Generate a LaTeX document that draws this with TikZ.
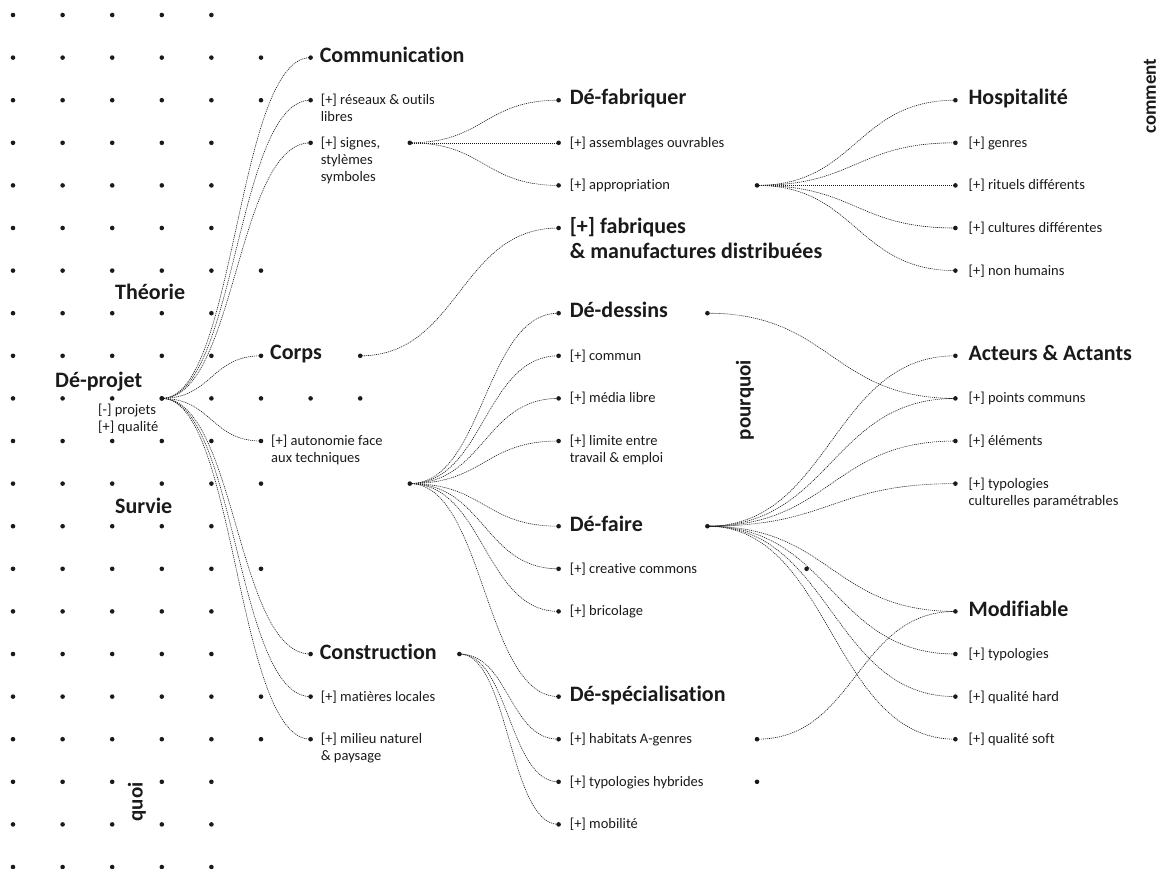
\documentclass[tikz,border=0pt]{standalone}
\usepackage{fontspec}
\setmainfont{Carlito}[Ligatures=NoCommon]
\usetikzlibrary{calc}
\definecolor{ink}{HTML}{1A1A1A}
\newcommand\lnk[2]{\draw[link] let \p1=(#1.center), \p2=(#2.center), \n1={0.5*(\x2-\x1)} in (#1.center) .. controls ([xshift=\n1]#1.center) and ([xshift=-\n1]#2.center) .. (#2.center);}
\newcommand\twol[2]{\vtop{\hbox{#1}\hbox{#2}}}
\newcommand\threel[3]{\vtop{\hbox{#1}\hbox{#2}\hbox{#3}}}
\begin{document}
\begin{tikzpicture}[x=1pt,y=-1pt,
 dot/.style={circle,fill=ink,inner sep=0pt,minimum size=4.6pt},
 big/.style={anchor=base west,inner sep=0pt,text=ink,font=\fontsize{22}{25}\selectfont\bfseries},
 sm/.style={anchor=base west,inner sep=0pt,text=ink,font=\fontsize{14.5}{17}\selectfont},
 rot/.style={rotate=90,inner sep=0pt,text=ink,font=\fontsize{21}{25}\selectfont\bfseries},
 link/.style={draw=ink,line width=0.6pt,dash pattern=on 1.1pt off 0.9pt}]
\useasboundingbox (0,0) rectangle (1161,868);
% grid of dots
\foreach \r in {0,...,20}{\foreach \c in {0,...,4}{\fill[ink] ({13+49.6*\c},{15+42.6*\r}) circle (2.3pt);}}
\foreach \r in {1,2,6,9,11,13,16,17}{\fill[ink] (261,{15+42.6*\r}) circle (2.3pt);}
\fill[ink] (310.6,398.4) circle (2.3pt) (360.2,398.4) circle (2.3pt);
% node dots
\node[dot] (dp) at (161.8,398.4) {};
\node[dot] (com) at (310.6,57.6) {};
\node[dot] (res) at (310.6,100.2) {};
\node[dot] (sig) at (310.6,142.8) {};
\node[dot] (sigS) at (409.8,142.8) {};
\node[dot] (cor) at (261,355.8) {};
\node[dot] (corS) at (360.2,355.8) {};
\node[dot] (aut) at (261,441) {};
\node[dot] (autS) at (409.8,483.6) {};
\node[dot] (con) at (310.6,654) {};
\node[dot] (conS) at (459.4,654) {};
\node[dot] (mat) at (310.6,696.6) {};
\node[dot] (mil) at (310.6,739.2) {};
\node[dot] (fab) at (558.6,100.2) {};
\node[dot] (ass) at (558.6,142.8) {};
\node[dot] (app) at (558.6,185.4) {};
\node[dot] (appS) at (757,185.4) {};
\node[dot] (man) at (558.6,228) {};
\node[dot] (des) at (558.6,313.2) {};
\node[dot] (desS) at (707.4,313.2) {};
\node[dot] (cmn) at (558.6,355.8) {};
\node[dot] (med) at (558.6,398.4) {};
\node[dot] (lim) at (558.6,441) {};
\node[dot] (fai) at (558.6,526.2) {};
\node[dot] (faiS) at (707.4,526.2) {};
\node[dot] (cre) at (558.6,568.8) {};
\node[dot] (bri) at (558.6,611.4) {};
\node[dot] (spe) at (558.6,696.6) {};
\node[dot] (hab) at (558.6,739.2) {};
\node[dot] (habS) at (757,739.2) {};
\node[dot] (hyb) at (558.6,781.8) {};
\node[dot] (hybS) at (757,781.8) {};
\node[dot] (mob) at (558.6,824.4) {};
\node[dot] (hos) at (955.4,100.2) {};
\node[dot] (gen) at (955.4,142.8) {};
\node[dot] (rit) at (955.4,185.4) {};
\node[dot] (cul) at (955.4,228) {};
\node[dot] (non) at (955.4,270.6) {};
\node[dot] (act) at (955.4,355.8) {};
\node[dot] (pts) at (955.4,398.4) {};
\node[dot] (ele) at (955.4,441) {};
\node[dot] (typ) at (955.4,483.6) {};
\node[dot] (mod) at (955.4,611.4) {};
\node[dot] (ty2) at (955.4,654) {};
\node[dot] (qh) at (955.4,696.6) {};
\node[dot] (qs) at (955.4,739.2) {};
\node[dot] (lone) at (806.6,568.8) {};
% links
\foreach \t in {com,res,sig,cor,aut,con,mat,mil}{\lnk{dp}{\t}}
\foreach \t in {fab,ass,app}{\lnk{sigS}{\t}}
\lnk{corS}{man}
\foreach \t in {des,cmn,med,lim,fai,cre,bri,spe}{\lnk{autS}{\t}}
\foreach \t in {hab,hyb,mob}{\lnk{conS}{\t}}
\foreach \t in {hos,gen,rit,cul,non}{\lnk{appS}{\t}}
\lnk{desS}{pts}
\foreach \t in {act,pts,ele,typ,mod,ty2,qh,qs}{\lnk{faiS}{\t}}
\lnk{habS}{mod}
% labels
\node[big] (tcom) at ([xshift=9pt,yshift=-5pt]com.center) {Communication};
\node[sm] (tres) at ([xshift=10pt,yshift=-4.5pt]res.center) {\twol{[+] réseaux \& outils}{libres}};
\node[sm] (tsig) at ([xshift=10pt,yshift=-4.5pt]sig.center) {\threel{[+] signes,}{stylèmes}{symboles}};
\node[big] (tcor) at ([xshift=9pt,yshift=-4pt]cor.center) {Corps};
\node[sm] (taut) at ([xshift=10pt,yshift=-4.5pt]aut.center) {\twol{[+] autonomie face}{aux techniques}};
\node[big] (tcon) at ([xshift=9pt,yshift=-5pt]con.center) {Construction};
\node[sm] (tmat) at ([xshift=10pt,yshift=-4.5pt]mat.center) {[+] matières locales};
\node[sm] (tmil) at ([xshift=10pt,yshift=-4.5pt]mil.center) {\twol{[+] milieu naturel}{\& paysage}};
\node[big] (tfab) at ([xshift=11pt,yshift=-4pt]fab.center) {Dé-fabriquer};
\node[sm] (tass) at ([xshift=11pt,yshift=-4.5pt]ass.center) {[+] assemblages ouvrables};
\node[sm] (tapp) at ([xshift=11pt,yshift=-4.5pt]app.center) {[+] appropriation};
\node[big] (tman) at ([xshift=11pt,yshift=-5pt]man.center) {\twol{[+] fabriques}{\& manufactures distribuées}};
\node[big] (tdes) at ([xshift=11pt,yshift=-4pt]des.center) {Dé-dessins};
\node[sm] (tcmn) at ([xshift=11pt,yshift=-4.5pt]cmn.center) {[+] commun};
\node[sm] (tmed) at ([xshift=11pt,yshift=-4.5pt]med.center) {[+] média libre};
\node[sm] (tlim) at ([xshift=11pt,yshift=-4.5pt]lim.center) {\twol{[+] limite entre}{travail \& emploi}};
\node[big] (tfai) at ([xshift=11pt,yshift=-5pt]fai.center) {Dé-faire};
\node[sm] (tcre) at ([xshift=11pt,yshift=-4.5pt]cre.center) {[+] creative commons};
\node[sm] (tbri) at ([xshift=11pt,yshift=-4.5pt]bri.center) {[+] bricolage};
\node[big] (tspe) at ([xshift=11pt,yshift=-5pt]spe.center) {Dé-spécialisation};
\node[sm] (thab) at ([xshift=11pt,yshift=-4.5pt]hab.center) {[+] habitats A-genres};
\node[sm] (thyb) at ([xshift=11pt,yshift=-4.5pt]hyb.center) {[+] typologies hybrides};
\node[sm] (tmob) at ([xshift=11pt,yshift=-4.5pt]mob.center) {[+] mobilité};
\node[big] (thos) at ([xshift=13pt,yshift=-4pt]hos.center) {Hospitalité};
\node[sm] (tgen) at ([xshift=13pt,yshift=-4.5pt]gen.center) {[+] genres};
\node[sm] (trit) at ([xshift=13pt,yshift=-4.5pt]rit.center) {[+] rituels différents};
\node[sm] (tcul) at ([xshift=13pt,yshift=-4.5pt]cul.center) {[+] cultures différentes};
\node[sm] (tnon) at ([xshift=13pt,yshift=-4.5pt]non.center) {[+] non humains};
\node[big] (tact) at ([xshift=13pt,yshift=-5pt]act.center) {Acteurs \& Actants};
\node[sm] (tpts) at ([xshift=13pt,yshift=-4.5pt]pts.center) {[+] points communs};
\node[sm] (tele) at ([xshift=13pt,yshift=-4.5pt]ele.center) {[+] éléments};
\node[sm] (ttyp) at ([xshift=13pt,yshift=-4.5pt]typ.center) {\twol{[+] typologies}{culturelles paramétrables}};
\node[big] (tmod) at ([xshift=13pt,yshift=-5pt]mod.center) {Modifiable};
\node[sm] (tty2) at ([xshift=13pt,yshift=-4.5pt]ty2.center) {[+] typologies};
\node[sm] (tqh) at ([xshift=13pt,yshift=-4.5pt]qh.center) {[+] qualité hard};
\node[sm] (tqs) at ([xshift=13pt,yshift=-4.5pt]qs.center) {[+] qualité soft};
% free labels
\node[big] (theo) at (115,299) {Théorie};
\node[big] (dproj) at (55,387) {Dé-projet};
\node[big] (surv) at (115,513) {Survie};
\node[sm] (pq) at (98,414) {\twol{[-] projets}{[+] qualité}};
\node[rot,font=\fontsize{19}{22}\selectfont\bfseries] (comm) at (1150,96) {comment};
\node[rot] (pourq) at (745,400) {pourquoi};
\node[rot] (quoi) at (137,802) {quoi};
\end{tikzpicture}
\end{document}
